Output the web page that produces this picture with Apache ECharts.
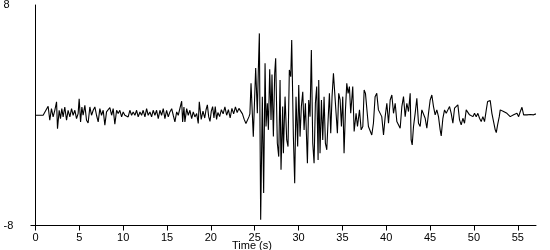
<!DOCTYPE html>
<html>
<head>
<meta charset="utf-8">
<script src="https://cdn.jsdelivr.net/npm/echarts@6/dist/echarts.min.js"></script>
<style>
html,body{margin:0;padding:0;background:#fff;}
#c{width:550px;height:250px;}
</style>
</head>
<body>
<div id="c"></div>
<script>
const time = [0,0.87,1.06,1.44,1.63,1.82,2.01,2.2,2.4,2.51,2.7,2.85,3.0,3.15,3.34,3.54,3.72,3.92,4.11,4.29,4.49,4.68,4.86,4.98,5.14,5.29,5.43,5.63,5.82,6.0,6.2,6.39,6.58,6.77,6.96,7.15,7.34,7.53,7.72,7.91,8.1,8.29,8.48,8.68,8.86,9.05,9.25,9.43,9.62,9.82,10.0,10.19,10.39,10.57,10.76,10.96,11.14,11.34,11.53,11.71,11.91,12.1,12.28,12.48,12.67,12.85,13.05,13.24,13.42,13.62,13.81,14.0,14.19,14.38,14.57,14.76,14.95,15.14,15.33,15.53,15.71,15.9,16.1,16.28,16.47,16.67,16.78,16.93,17.04,17.24,17.42,17.61,17.81,17.99,18.18,18.38,18.56,18.68,
18.9,19.1,19.3,19.45,19.6,19.75,19.9,20.05,20.2,20.35,20.5,20.65,20.8,21.0,21.2,21.4,21.6,21.8,22.0,22.2,22.4,22.6,22.8,23.0,23.2,23.4,23.6,23.8,24.0,24.2,24.35,24.45,
24.58,24.84,25.11,25.3,25.41,25.53,25.68,25.87,26.02,26.18,26.29,26.44,26.56,26.71,26.86,26.97,27.13,27.28,27.39,27.58,27.74,27.89,28.0,28.19,28.27,28.46,28.65,28.8,28.95,29.11,29.22,29.41,29.56,29.71,29.9,30.02,30.17,30.32,30.48,30.63,30.78,31.01,31.16,31.31,31.46,31.62,31.77,31.92,32.07,32.23,32.3,32.45,32.61,32.76,32.91,33.06,33.22,33.37,33.52,33.67,33.82,33.98,34.13,34.28,34.43,34.58,34.74,34.89,35.04,35.19,35.35,35.5,35.65,35.8,35.95,
36.18,36.34,36.56,36.72,36.95,37.14,37.33,37.48,37.63,37.78,37.97,38.16,38.35,38.54,38.73,38.92,39.11,39.3,39.49,39.69,39.88,40.07,40.26,40.45,40.64,40.83,41.02,41.21,41.4,41.59,41.78,41.97,42.16,42.35,42.54,42.73,42.84,42.96,43.11,43.3,43.49,43.68,43.87,44.06,44.25,44.44,44.63,44.82,45.01,45.2,45.39,45.58,45.77,45.96,46.15,46.27,46.46,46.65,46.84,47.03,47.22,47.41,47.6,47.79,47.98,48.17,48.36,48.55,48.74,48.93,49.12,49.31,49.5,49.69,49.88,50.07,50.26,50.45,50.64,50.83,51.02,51.21,51.41,51.56,51.75,51.86,52.05,52.24,52.43,52.55,52.7,52.89,53.0,53.19,53.38,53.57,53.76,53.95,54.14,54.34,54.53,54.72,54.91,55.1,55.29,55.48,55.67,55.86,56.05,56.43,56.81,57.07];
const accel = [0,0,0.1,0.65,-0.36,0.48,-0.12,0.36,0.97,-0.97,0.36,-0.24,0.48,-0.12,0.6,-0.36,0.36,-0.12,0.48,0,0.36,-0.24,0.12,1.2,-0.48,0.6,0,0.72,-0.36,-0.56,0.6,0,0.36,0.6,0,-0.48,0.48,0,0.36,-0.72,0.24,0.36,0.56,0,0.48,-0.65,0.36,0.12,0.36,-0.12,0.24,0,0.12,-0.12,0.36,0,0.24,0,0.36,-0.12,0.24,0,0.36,-0.12,0.48,0,0.24,-0.12,0.36,0,0.36,-0.24,0.36,0,0.48,-0.24,0.36,-0.12,0.24,0.48,0,-0.48,0.24,0,0.12,1.02,-0.48,0.6,-0.48,0.48,0,0.36,-0.24,0.24,-0.12,0.12,-0.6,0.97,
-0.3,0.3,-0.2,0.4,0.75,-0.1,-0.45,0.3,0.63,-0.2,0.63,-0.3,0.2,-0.1,0.4,0.1,0.6,0,0.4,-0.2,0.5,0.1,0.6,0.2,0.5,0.3,0.1,-0.3,-0.6,-0.5,-0.1,0.1,
2.32,-1.55,3.43,0.14,3.19,5.94,-7.58,1.35,-5.65,3.77,-0.82,0.87,-1.06,3.33,-0.34,2.95,-1.55,3.07,4.13,-2.03,-3.0,2.56,-3.96,0.63,-2.75,1.35,-1.79,-2.27,3.29,2.8,5.46,-1.55,-4.93,1.35,-2.27,2.2,-1.55,0.63,1.71,-1.06,0.87,-3.48,1.11,-0.1,4.73,-2.03,-3.48,0.87,2.08,-3.24,2.56,-2.75,1.11,-1.79,1.35,-2.03,-2.51,-0.34,1.59,-1.31,1.35,3.04,3.16,0.14,-1.31,1.59,1.11,-0.82,1.35,-2.75,0.39,2.32,1.59,2.08,0.14,
2.08,-1.18,0.14,-0.82,0.39,-1.06,-0.82,1.83,1.59,1.71,-0.82,-0.94,-1.43,-0.58,1.35,1.59,0.39,0.39,-0.1,-1.43,-0.1,0.87,-0.58,1.11,1.47,0.14,0.87,-0.46,-0.58,-0.94,0.63,1.35,-0.1,0.87,0.27,1.59,-1.79,-2.15,-0.82,0.14,1.23,-0.58,-0.82,0.39,0.51,-0.22,-0.94,0.14,1.11,1.47,0.63,0.03,0.39,-0.1,-1.06,-1.5,-0.22,0.39,0.14,0.39,0.63,0.14,-0.58,0.51,0.39,0.75,-0.34,-0.7,-0.22,-0.58,0.39,0.51,0.03,0.14,-0.1,0.14,-0.1,0.14,-0.22,-0.46,-0.1,-0.46,0.39,1.0,0.87,1.06,0.14,-0.46,-1.06,-1.26,-0.7,-0.1,0.39,0.51,0.27,0.39,0.14,0.03,-0.1,0.03,0.03,-0.1,0.14,-0.1,0.27,0.58,0.03,-0.05,0.03,0.05,0.03,0.1];
const xTicks = [0,5,10,15,20,25,30,35,40,45,50,55];
const yLabels = [-8,8];
const yName = 'cm/s/s';
const xName = 'Time (s)';

const chart = echarts.init(document.getElementById('c'), null, {renderer:'canvas'});
const font = 'Liberation Sans, Arial, sans-serif';
const pts = time.map((t,i)=>[t, accel[i]]);
chart.setOption({
  animation:false,
  backgroundColor:'#fff',
  grid:{left:35.5,right:14,top:5,bottom:24.5,containLabel:false,outerBoundsMode:'none'},
  xAxis:{
    type:'value',min:0,max:57.08,interval:5,
    axisLine:{show:true,onZero:false,lineStyle:{color:'#000',width:1}},
    axisTick:{show:true,inside:false,length:5,lineStyle:{color:'#000'},customValues:xTicks},
    axisLabel:{color:'#000',fontFamily:font,fontSize:11,margin:7,customValues:xTicks},
    splitLine:{show:false}
  },
  yAxis:{
    type:'value',min:-8,max:8,interval:8,
    name:yName,nameLocation:'middle',nameGap:21,nameRotate:90,
    nameTextStyle:{color:'#000',fontFamily:font,fontSize:10},
    axisLine:{show:true,onZero:false,lineStyle:{color:'#000',width:1}},
    axisTick:{show:true,length:5,lineStyle:{color:'#000'},customValues:[-8]},
    axisLabel:{color:'#000',fontFamily:font,fontSize:11,margin:32,align:'left',customValues:yLabels},
    splitLine:{show:false}
  },
  graphic:[{type:'text',left:232,top:240,style:{text:xName,fill:'#000',font:'11px '+font}}],
  series:[{type:'line',data:pts,showSymbol:false,symbol:'none',lineStyle:{color:'#000',width:1.1},clip:true}]
});
</script>
</body>
</html>
